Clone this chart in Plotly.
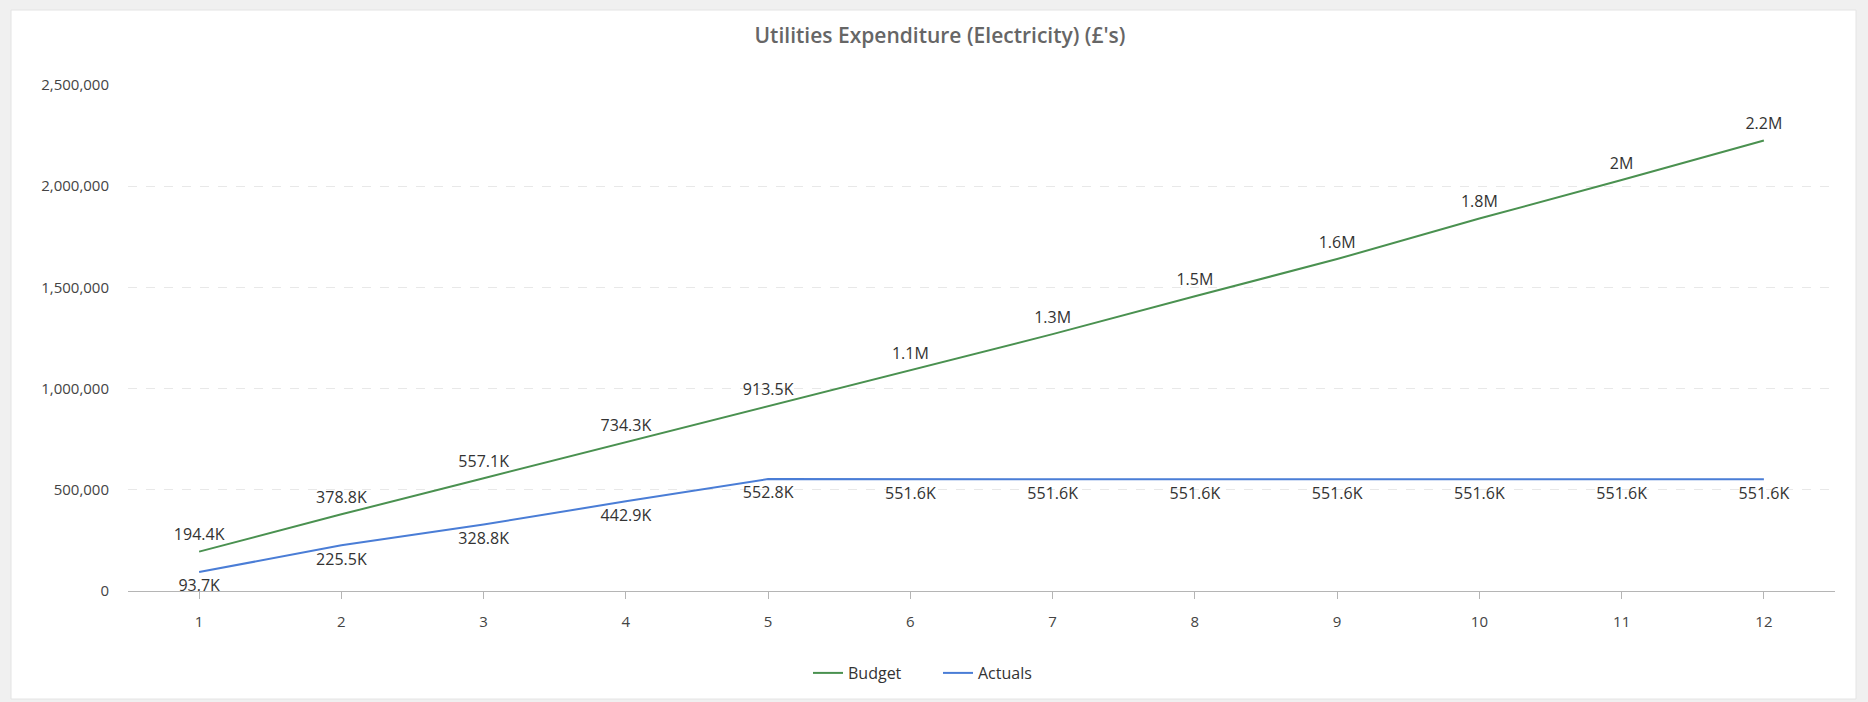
import plotly.graph_objects as go

# --- data ---
months = [1, 2, 3, 4, 5, 6, 7, 8, 9, 10, 11, 12]
budget = [194400, 378800, 557100, 734300, 913500, 1089000, 1269000,
          1456000, 1640000, 1840000, 2031000, 2226000]
actuals = [93700, 225500, 328800, 442900, 552800, 551600, 551600,
           551600, 551600, 551600, 551600, 551600]
y_ticks = [0, 500000, 1000000, 1500000, 2000000, 2500000]

W, H = 1868, 702
ML, MR, MT, MB = 128, 33, 85, 111


def short(v):
    # 194400 -> 194.4K, 2031000 -> 2M
    if v >= 1e6:
        s = f"{v / 1e6:.1f}".rstrip("0").rstrip(".") + "M"
    else:
        s = f"{v / 1e3:.1f}".rstrip("0").rstrip(".") + "K"
    return s


GREEN = "#4a9150"
BLUE = "#4a7dd6"
FONT = "Open Sans"
LABEL_FONT = dict(family=FONT, size=16, color="#333333")
# transparent markers only push the value labels off the line
HIDDEN = dict(size=10, color="rgba(0,0,0,0)", line=dict(width=0))

fig = go.Figure()

fig.add_trace(go.Scatter(
    x=months, y=budget, name="Budget", mode="lines+markers+text",
    line=dict(color=GREEN, width=2), marker=HIDDEN,
    text=[short(v) for v in budget], textposition="top center",
    textfont=LABEL_FONT, cliponaxis=False,
))
fig.add_trace(go.Scatter(
    x=months, y=actuals, name="Actuals", mode="lines+markers+text",
    line=dict(color=BLUE, width=2), marker=HIDDEN,
    text=[short(v) for v in actuals], textposition="bottom center",
    textfont=LABEL_FONT, cliponaxis=False,
))

# white card on a light grey page
pw = W - ML - MR
ph = H - MT - MB
card = dict(x0=11, x1=1856, y0=10, y1=699)
fig.add_shape(
    type="rect", xref="paper", yref="paper", layer="below",
    x0=(card["x0"] - ML) / pw, x1=(card["x1"] - ML) / pw,
    y0=(H - MB - card["y1"]) / ph, y1=(H - MB - card["y0"]) / ph,
    fillcolor="white", line=dict(color="#e4e4e4", width=1),
)

fig.update_layout(
    width=W, height=H,
    margin=dict(l=ML, r=MR, t=MT, b=MB),
    paper_bgcolor="#f0f0f0",
    plot_bgcolor="rgba(0,0,0,0)",
    font=dict(family=FONT, size=15, color="#444444"),
    title=dict(
        text="Utilities Expenditure (Electricity) (£'s)",
        x=940 / W, xref="container", xanchor="center",
        y=1 - 36 / H, yref="container", yanchor="middle",
        font=dict(family=FONT, size=21, color="#666666", weight=600),
    ),
    legend=dict(
        orientation="h", xref="container", yref="container",
        x=938 / W, xanchor="center", y=1 - 673 / H, yanchor="middle",
        font=dict(family=FONT, size=16, color="#333333"),
        bgcolor="rgba(0,0,0,0)",
        entrywidth=85, entrywidthmode="pixels",
    ),
    xaxis=dict(
        range=[0.5, 12.5], tickvals=months, showgrid=False,
        showline=True, linecolor="#b5b5b5", linewidth=1,
        ticks="outside", ticklen=7, tickcolor="#b5b5b5",
        ticklabelstandoff=10, zeroline=False,
        tickfont=dict(family=FONT, size=15, color="#444444"),
    ),
    yaxis=dict(
        range=[0, 2500000], tickvals=y_ticks, tickformat=",",
        showgrid=True, gridcolor="#e8e8e8", griddash="dash", gridwidth=1,
        zeroline=False, showline=False, ticklabelstandoff=18,
        tickfont=dict(family=FONT, size=15, color="#444444"),
    ),
)

# drop the browser's default body margin so the figure sits at (0, 0)
fig.write_html(
    "out.html",
    config={"displayModeBar": False},
    post_script="document.body.style.margin='0';"
                "document.body.style.background='#f0f0f0';",
)
